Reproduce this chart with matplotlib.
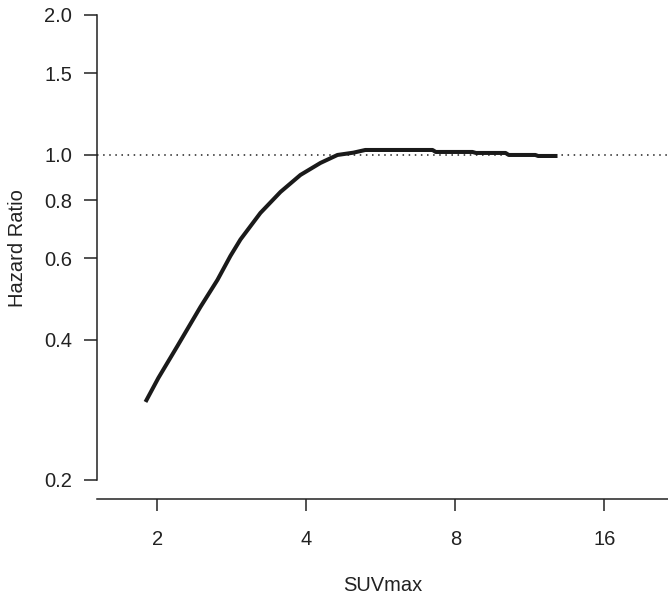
import matplotlib
matplotlib.use('Agg')
import matplotlib.pyplot as plt
from matplotlib.ticker import FixedLocator, NullLocator

plt.rcParams['font.family'] = ['Liberation Sans', 'DejaVu Sans']

# hazard ratio curve
suv = [1.892, 2.009, 2.195, 2.443, 2.644, 2.809, 2.943, 3.229, 3.545, 3.890,
       4.269, 4.621, 4.977, 5.26, 7.19, 7.3, 8.66, 8.8, 10.1, 10.25, 11.6,
       11.75, 12.86]
hr = [0.2943, 0.3315, 0.3882, 0.4711, 0.5385, 0.6066, 0.658, 0.7504, 0.8326,
      0.9058, 0.9612, 1.0, 1.0115, 1.025, 1.025, 1.015, 1.015, 1.01, 1.01,
      1.0, 1.0, 0.995, 0.995]

x_ticks = [2, 4, 8, 16]
y_ticks = [0.2, 0.4, 0.6, 0.8, 1.0, 1.5, 2.0]
y_labels = ['0.2', '0.4', '0.6', '0.8', '1.0', '1.5', '2.0']

W, H = 668, 597
fig = plt.figure(figsize=(W / 100, H / 100), dpi=100)
ax = fig.add_axes([97 / W, 1 - 499 / H, (668 - 97) / W, (499 - 15) / H])

ax.set_xscale('log', base=2)
ax.set_yscale('log')
ax.set_xlim(1.51, 21.5)
ax.set_ylim(0.182, 2.0)

ax.axhline(1.0, color='#222222', lw=1.1, ls=(0, (1, 3)))
ax.plot(suv, hr, color='#1a1a1a', lw=2.9, solid_joinstyle='round',
        solid_capstyle='butt')

for s in ['top', 'right']:
    ax.spines[s].set_visible(False)
ax.spines['left'].set_bounds(0.2, 2.0)
for s in ['left', 'bottom']:
    ax.spines[s].set_linewidth(1.1)
    ax.spines[s].set_color('#222222')

ax.xaxis.set_major_locator(FixedLocator(x_ticks))
ax.xaxis.set_minor_locator(NullLocator())
ax.set_xticklabels([str(v) for v in x_ticks])
ax.yaxis.set_major_locator(FixedLocator(y_ticks))
ax.yaxis.set_minor_locator(NullLocator())
ax.set_yticklabels(y_labels)

ax.tick_params(axis='y', length=9.4, width=1.1, pad=8.6, labelsize=14.5,
               colors='#222222')
ax.tick_params(axis='x', length=8.6, width=1.1, pad=14, labelsize=14.5,
               colors='#222222')

ax.set_xlabel('SUVmax', fontsize=14.5, color='#222222', labelpad=19)
fig.text(18 / W, 1 - 248 / H, 'Hazard Ratio', rotation=90, fontsize=14.5,
         color='#222222', ha='center', va='center')

fig.savefig('out.png', dpi=100)
